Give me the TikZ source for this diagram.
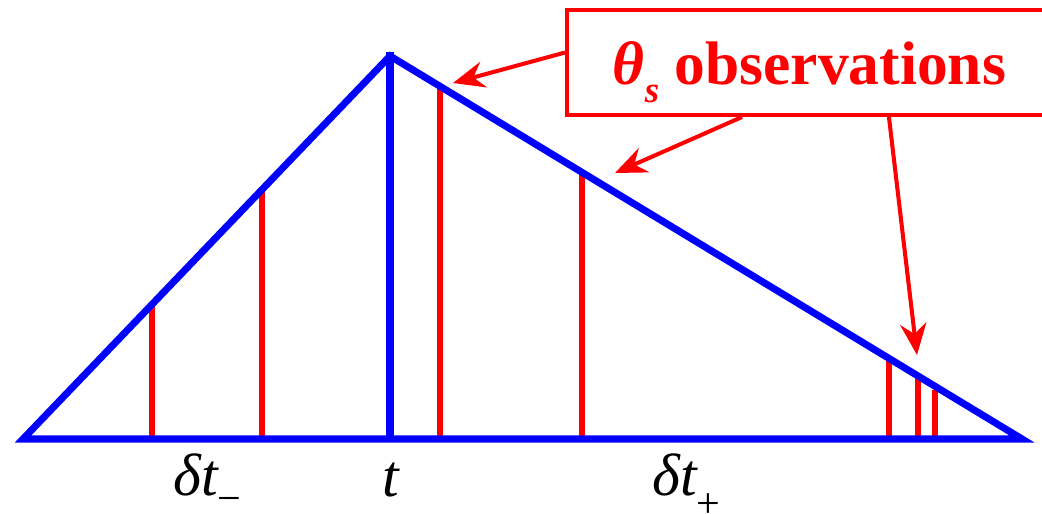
\documentclass[tikz,border=0pt]{standalone}
\usepackage{fontspec}
\setmainfont{Liberation Serif}
\usetikzlibrary{arrows.meta}
\tikzset{
 blueline/.style={blue, line width=4pt, line join=miter},
 redline/.style={red, line width=3.6pt},
 callout/.style={red, line width=2.3pt, -{Stealth[length=18pt, width=15pt, inset=6pt]}},
 lbl/.style={font=\fontsize{34}{40}\selectfont\itshape, inner sep=0pt}
}
\begin{document}
\begin{tikzpicture}[x=0.02cm, y=-0.02cm]
 \useasboundingbox (0,0) rectangle (1042,514);
 \clip (0,0) rectangle (1042,514);
 % observations
 \foreach \x/\y in {152/304, 262/189, 440/86, 582/172, 889/358, 918/376, 935/390}
  \draw[redline] (\x,439) -- (\x,\y);
 % triangle
 \draw[blueline] (23,439) -- (390,56) -- (1022,439) -- cycle;
 \draw[blueline] (390,439) -- (390,52);
 % label box
 \node[draw=red, line width=2.3pt, text=red, anchor=north west, minimum width=9.7cm, minimum height=2.1cm,
  text height=1.1cm, text depth=0.24cm, inner xsep=0pt,
  font=\fontsize{35}{40}\selectfont\bfseries] (obs) at (565,8)
  {\textit{θ}\raisebox{-0.3em}{\fontsize{21}{24}\selectfont\textit{s}} observations\hspace{2pt}};
 \coordinate (tipA) at (453,83);
 \coordinate (tipB) at (615,173);
 \coordinate (tipC) at (917,355);
 \draw[callout] ([yshift=0.2cm]obs.west) -- (tipA);
 \draw[callout] ([xshift=3.54cm]obs.south west) -- (tipB);
 \draw[callout] ([xshift=6.48cm]obs.south west) -- (tipC);
 % time labels
 \node[lbl, anchor=base west] (dtm) at (173,495) {δt\raisebox{-0.3em}{\fontsize{24}{28}\selectfont\upshape −}};
 \node[lbl, anchor=base] (t) at (391,496) {t};
 \node[lbl, anchor=base west] (dtp) at (652,495) {δt\raisebox{-0.38em}{\fontsize{24}{28}\selectfont\upshape +}};
\end{tikzpicture}
\end{document}
